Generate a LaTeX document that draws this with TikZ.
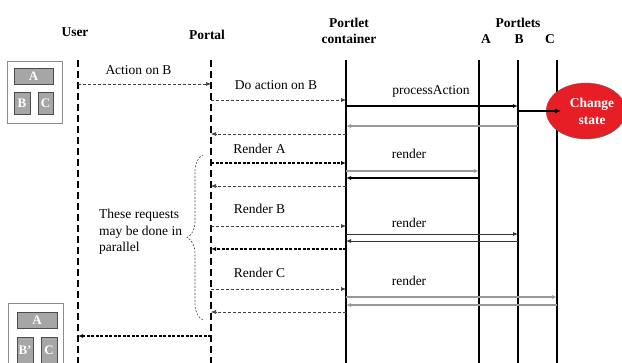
\documentclass[tikz,border=0pt]{standalone}
\usepackage{fontspec}
\setmainfont{Liberation Serif}
\usetikzlibrary{arrows.meta,shapes.geometric,decorations.pathreplacing}
\definecolor{chgred}{RGB}{232,30,38}
\definecolor{boxgray}{RGB}{166,166,166}
\tikzset{
  lifedash/.style={line width=2.4pt,dash pattern=on 7pt off 4pt},
  lifeline/.style={line width=2.2pt},
  req/.style={line width=0.6pt,draw=black!75,dash pattern=on 3pt off 2pt,-{Latex[length=5pt,width=4pt]}},
  reqbold/.style={line width=1.5pt,dash pattern=on 3pt off 1.5pt,-{Latex[length=5pt,width=4pt]}},
  call/.style={line width=1.5pt,-{Latex[length=5pt,width=4pt]}},
  callgray/.style={line width=1.3pt,draw=black!40,-{Latex[length=5pt,width=4pt]}},
  callthin/.style={line width=0.8pt,draw=black!80,-{Latex[length=5pt,width=4pt]}},
  pbox/.style={draw=black!70,fill=boxgray,text=white,font=\bfseries\fontsize{13}{15}\selectfont,inner sep=0pt},
  head/.style={font=\bfseries\fontsize{13.5}{16}\selectfont,align=center}
}
\begin{document}
\begin{tikzpicture}
[x=1pt,y=-1pt,every node/.style={font=\fontsize{13.5}{16.5}\selectfont}]
\useasboundingbox (0,0) rectangle (622,363);
% headers
\node[head] (hUser) at (75,32) {User};
\node[head] (hPortal) at (207,35) {Portal};
\node[head] (hCont) at (349,31) {Portlet\\container};
\node[head] (hPortlets) at (518,23) {Portlets};
\node[head] (hA) at (486,39) {A};
\node[head] (hB) at (519,39) {B};
\node[head] (hC) at (550,39) {C};
% lifelines
\coordinate (user) at (78,60);
\coordinate (portal) at (211,60);
\coordinate (cont) at (346,60);
\coordinate (pa) at (479,60);
\coordinate (pb) at (518,60);
\coordinate (pc) at (557,60);
\foreach \l in {user,portal}
\draw[lifedash] (\l) -- (\l |- 0,363);
\foreach \l in {cont,pa,pb,pc}
\draw[lifeline] (\l) -- (\l |- 0,363);
% page views
\draw[black!45] (7,61) rectangle (62,123);
\node[pbox,minimum width=39pt,minimum height=16pt] (vA) at (33.5,76) {A};
\node[pbox,minimum width=16pt,minimum height=22pt] (vB) at (22,103) {B};
\node[pbox,minimum width=15pt,minimum height=22pt] (vC) at (45.5,103) {C};
\draw[black!45] (8,303) rectangle (63,370);
\node[pbox,minimum width=40pt,minimum height=16pt] (wA) at (37,320) {A};
\node[pbox,minimum width=16pt,minimum height=26pt] (wB) at (25,350) {B'};
\node[pbox,minimum width=16pt,minimum height=26pt] (wC) at (49,350) {C};
% state change
\node[ellipse,draw=black!60,fill=chgred,text=white,minimum width=72pt,minimum height=56pt,inner sep=0pt,
  font=\bfseries\fontsize{13.5}{17}\selectfont,align=center] (chg) at (586,111) {\hspace*{12pt}Change\\\hspace*{12pt}state};
\draw[line width=2pt,-{Latex[length=6pt,width=5pt]}] (pb |- chg.west) -- ([xshift=15pt]chg.west);
% messages
\foreach \y/\from/\to/\sty in {84/user/portal/req,100/portal/cont/req,106/cont/pb/call,126/pb/cont/callgray,
  134/cont/portal/req,163/portal/cont/reqbold,171/cont/pa/callgray,178/pa/cont/call,186/cont/portal/req,
  226/portal/cont/req,234/cont/pb/callthin,241/pb/cont/callthin,249/cont/portal/reqbold,
  289/portal/cont/req,297/cont/pc/callgray,305/pc/cont/callgray,312/cont/portal/req,336/portal/user/reqbold}
\draw[\sty] (\from |- 0,\y) -- (\to |- 0,\y);
% labels
\node (lAct) at (138.5,70) {Action on B};
\node (lDo) at (276,85) {Do action on B};
\node (lProc) at (431,91) {processAction};
\node (lRA) at (259.5,149) {Render A};
\node (lRB) at (259.5,209) {Render B};
\node (lRC) at (259.5,273) {Render C};
\node (lrA) at (409,154) {render};
\node (lrB) at (409,223) {render};
\node (lrC) at (409,281) {render};
% parallel note
\coordinate (brTop) at (203,155);
\coordinate (brBot) at (203,320);
\draw[black!70,line width=0.6pt,dash pattern=on 2pt off 1.5pt,decorate,decoration={brace,amplitude=16pt}] (brBot) -- (brTop);
\node[anchor=west,align=left,inner sep=0pt] (note) at (99,232) {These requests\\may be done in\\parallel};
\end{tikzpicture}
\end{document}
